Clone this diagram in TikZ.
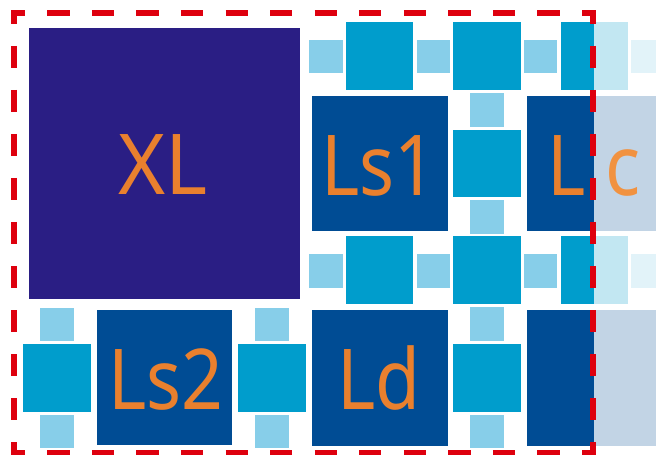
\documentclass[tikz,border=0pt]{standalone}
\usepackage{fontspec}
\setmainfont{Noto Sans}
\definecolor{xlblue}{RGB}{42,30,132}
\definecolor{bigblue}{RGB}{0,76,148}
\definecolor{midblue}{RGB}{0,157,204}
\definecolor{smallblue}{RGB}{135,206,233}
\definecolor{labelorange}{RGB}{233,128,46}
\definecolor{fadeorange}{RGB}{241,146,64}
\definecolor{framered}{RGB}{222,0,14}

\begin{document}
\begin{tikzpicture}[x=1pt,y=-1pt,
  bigsq/.style={fill=bigblue},
  midsq/.style={fill=midblue},
  smallsq/.style={fill=smallblue},
  lbl/.style={text=labelorange,inner sep=0pt,xscale=0.87,font=\fontsize{84}{84}\selectfont},
  redframe/.style={draw=framered,line width=5.5pt}]
\useasboundingbox (0,0) rectangle (656,457);

% big blocks
\fill[xlblue] (29,28) rectangle (300,299);
\fill[bigsq] (312,96) rectangle (448,231);
\fill[bigsq] (527,96) rectangle (663,231);
\fill[bigsq] (97,310) rectangle (232,445);
\fill[bigsq] (312,310) rectangle (448,446);
\fill[bigsq] (527,310) rectangle (663,446);

% upper lane
\fill[smallsq] (309,40) rectangle (343,73);
\fill[midsq] (346,22) rectangle (413,90);
\fill[smallsq] (417,40) rectangle (450,73);
\fill[midsq] (453,22) rectangle (521,90);
\fill[smallsq] (524,40) rectangle (557,73);
\fill[midsq] (561,22) rectangle (628,90);
\fill[smallsq] (631,40) rectangle (665,73);

% middle lane
\fill[smallsq] (309,254) rectangle (343,288);
\fill[midsq] (346,236) rectangle (413,304);
\fill[smallsq] (417,254) rectangle (450,288);
\fill[midsq] (453,236) rectangle (521,304);
\fill[smallsq] (524,254) rectangle (557,288);
\fill[midsq] (561,236) rectangle (628,304);
\fill[smallsq] (631,254) rectangle (665,288);

% vertical lane between the columns
\fill[smallsq] (470,93) rectangle (504,127);
\fill[midsq] (453,130) rectangle (521,197);
\fill[smallsq] (470,200) rectangle (504,234);
\fill[smallsq] (470,307) rectangle (504,341);
\fill[midsq] (453,344) rectangle (521,412);
\fill[smallsq] (470,415) rectangle (504,448);

% bottom left
\fill[smallsq] (40,308) rectangle (74,341);
\fill[midsq] (23,344) rectangle (91,412);
\fill[smallsq] (40,415) rectangle (74,448);
\fill[smallsq] (255,308) rectangle (289,341);
\fill[midsq] (238,344) rectangle (306,412);
\fill[smallsq] (255,415) rectangle (289,448);

% faded part
\fill[white,opacity=0.76] (594,0) rectangle (656,457);

\node[lbl,xscale=1.1] (xl) at (163,165) {XL};
\node[lbl] (ls1) at (379,166) {Ls1};
\node[lbl] (lc) at (594,166) {L {\color{fadeorange}c}};
\node[lbl] (ls2) at (166,380) {Ls2};
\node[lbl] (ld) at (379,378) {Ld};

% dashed border
\coordinate (tl) at (14,13);
\coordinate (tr) at (593,13);
\coordinate (bl) at (14,452.5);
\coordinate (br) at (593,452.5);
\draw[redframe,dash pattern=on 22.28pt off 22.28pt,dash phase=8.53pt,shorten <=-2.75pt,shorten >=-2.75pt] (tl) -- (tr);
\draw[redframe,dash pattern=on 22.28pt off 22.28pt,dash phase=8.53pt,shorten <=-2.75pt,shorten >=-2.75pt] (bl) -- (br);
\draw[redframe,dash pattern=on 22pt off 22pt,dash phase=8.25pt,shorten <=-2.75pt,shorten >=-2.75pt] (tl) -- (bl);
\draw[redframe,dash pattern=on 22pt off 22pt,dash phase=8.25pt,shorten <=-2.75pt,shorten >=-2.75pt] (tr) -- (br);
\end{tikzpicture}
\end{document}
